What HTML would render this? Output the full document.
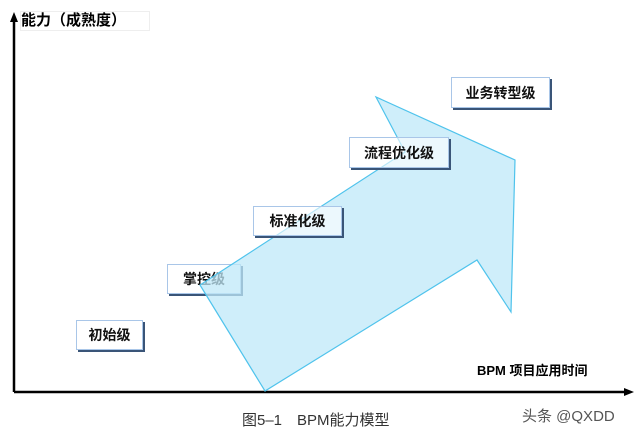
<!DOCTYPE html>
<html><head><meta charset="utf-8"><style>
body{margin:0;width:640px;height:437px;background:#fff;position:relative;overflow:hidden;font-family:"Liberation Sans","Noto Sans CJK SC",sans-serif}
.b{position:absolute;background:#fff;border:1px solid #a9c6e8;box-shadow:2px 2px 0 #3a5578;font-weight:bold;font-size:14px;color:#111;display:flex;align-items:center;justify-content:center;box-sizing:border-box}
.t{position:absolute;white-space:nowrap}
</style></head><body>
<svg width="640" height="437" style="position:absolute;left:0;top:0">
<line x1="14" y1="392" x2="14" y2="20" stroke="#000" stroke-width="2.5"/>
<polygon points="10,22 14,12 18,22" fill="#000"/>
<line x1="14" y1="392" x2="626" y2="392" stroke="#000" stroke-width="2.5"/>
<polygon points="624,388 634,392 624,396" fill="#000"/>
</svg>
<div class="t" style="left:20px;top:11px;width:130px;height:20px;border:1px solid #eee;box-sizing:border-box;font-size:15px;font-weight:bold;line-height:18px">能力（成熟度）</div>
<div class="b" style="left:76px;top:320px;width:67px;height:30px">初始级</div>
<div class="b" style="left:167px;top:264px;width:74px;height:30px">掌控级</div>
<svg width="640" height="437" style="position:absolute;left:0;top:0">
<polygon points="200,285 265,391 477,260 511,312 515,160 376,97 405,152" fill="#bfe8f8" fill-opacity="0.75" stroke="#4fc3ec" stroke-width="1.2"/>
</svg>
<div class="b" style="left:253px;top:206px;width:89px;height:30px;background:rgba(255,255,255,0.6)">标准化级</div>
<div class="b" style="left:349px;top:137px;width:100px;height:31px;background:rgba(255,255,255,0.6)">流程优化级</div>
<div class="b" style="left:451px;top:77px;width:99px;height:31px">业务转型级</div>
<div class="t" style="left:477px;top:360px;font-size:13px;font-weight:bold">BPM 项目应用时间</div>
<div class="t" style="left:242px;top:409px;font-size:15px;color:#333">图5–1　BPM能力模型</div>
<div class="t" style="left:522px;top:405px;font-size:15px;color:#555">头条 @QXDD</div>
</body></html>
